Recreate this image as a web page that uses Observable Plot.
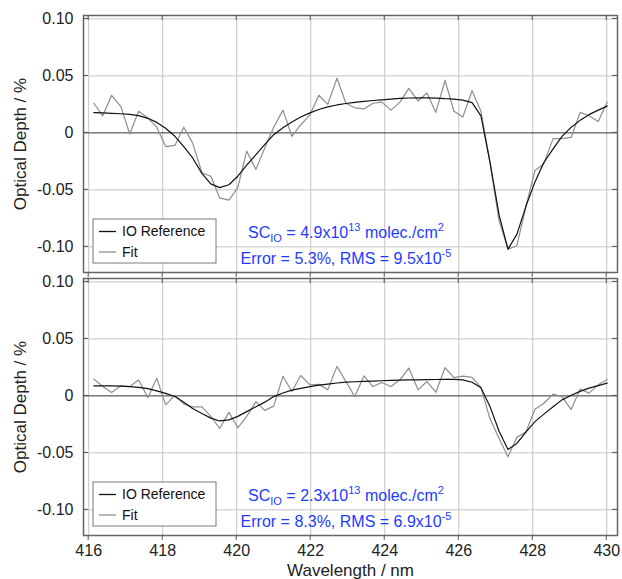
<!DOCTYPE html>
<html><head><meta charset="utf-8">
<script src="https://cdn.jsdelivr.net/npm/d3@7"></script>
<script src="https://cdn.jsdelivr.net/npm/@observablehq/plot@0.6"></script>
<style>
html,body{margin:0;padding:0;background:#fff;}
#chart{width:622px;height:579px;}
#chart svg{display:block;}
</style></head><body><div id="chart"></div>
<script>
const wavelength = [416.14,416.38,416.62,416.87,417.11,417.35,417.60,417.84,418.08,418.33,
  418.57,418.81,419.06,419.30,419.54,419.79,420.03,420.27,420.52,420.76,
  421.00,421.25,421.49,421.73,421.98,422.22,422.46,422.71,422.95,423.19,
  423.44,423.68,423.92,424.17,424.41,424.65,424.90,425.14,425.38,425.63,
  425.87,426.11,426.36,426.60,426.84,427.09,427.33,427.57,427.82,428.06,
  428.30,428.55,428.79,429.04,429.28,429.52,429.77,430.01];

const refTop = [0.0178,0.0175,0.0172,0.0168,0.0163,0.0152,0.0128,0.0092,0.004,-0.003,
  -0.012,-0.022,-0.0355,-0.0447,-0.048,-0.0455,-0.038,-0.0283,-0.019,-0.010,
  -0.0016,0.0045,0.0095,0.014,0.0176,0.0205,0.0228,0.0245,0.0258,0.0268,
  0.0276,0.0284,0.029,0.0297,0.0302,0.0306,0.0307,0.0307,0.0305,0.0300,
  0.0297,0.0287,0.0265,0.015,-0.025,-0.072,-0.102,-0.089,-0.064,-0.043,
  -0.026,-0.014,-0.003,0.005,0.011,0.016,0.020,0.0235];
const fitTop = [0.026,0.015,0.033,0.023,-0.001,0.019,0.013,0.005,-0.012,-0.011,
  0.005,-0.009,-0.035,-0.038,-0.057,-0.059,-0.048,-0.016,-0.032,-0.013,
  0.005,0.020,-0.003,0.007,0.016,0.033,0.025,0.048,0.026,0.022,
  0.021,0.026,0.027,0.020,0.027,0.039,0.028,0.035,0.018,0.046,
  0.019,0.014,0.037,0.019,-0.025,-0.077,-0.102,-0.099,-0.064,-0.033,
  -0.027,-0.005,-0.005,-0.004,0.018,0.015,0.010,0.027];

const refBottom = [0.0088,0.0088,0.0087,0.0085,0.0082,0.0074,0.0064,0.0044,0.0022,-0.0005,
  -0.0055,-0.011,-0.0155,-0.0195,-0.022,-0.021,-0.018,-0.0138,-0.0095,-0.0055,
  -0.0006,0.0025,0.005,0.0066,0.0081,0.0094,0.0104,0.0113,0.012,0.0124,
  0.0127,0.013,0.0133,0.0136,0.0138,0.014,0.0141,0.0142,0.0144,0.0146,
  0.0145,0.014,0.012,0.0072,-0.009,-0.031,-0.047,-0.0417,-0.0315,-0.0226,
  -0.016,-0.0095,-0.0035,0.0005,0.004,0.0068,0.009,0.0112];
const fitBottom = [0.0148,0.0082,0.003,0.0089,0.0082,0.014,-0.0015,0.0155,-0.0079,0.0006,
  -0.007,-0.0097,-0.0097,-0.018,-0.0286,-0.0145,-0.028,-0.018,-0.005,-0.0127,
  -0.009,0.0172,0.0038,0.0179,0.0097,0.0101,0.0053,0.0259,0.0126,-0.0006,
  0.0176,0.0082,0.0118,0.0082,0.0141,0.0244,0.0053,0.0126,0.0032,0.0247,
  0.0161,0.0173,0.0162,0.0074,-0.0197,-0.0373,-0.0535,-0.0364,-0.0315,-0.0117,
  -0.0065,0.0015,-0.0006,-0.012,0.006,0.0024,0.0097,0.0144];

const xTicks = [416,418,420,422,424,426,428,430];
const yTicks = [-0.10,-0.05,0,0.05,0.10];
const seriesNames = ["IO Reference","Fit"];
const scValues = ["4.9","2.3"];
const scExponent = "13";
const errorValues = ["5.3%","8.3%"];
const rmsValues = ["9.5","6.9"];
const rmsExponent = "-5";

const FONT = '"Liberation Sans", Arial, Helvetica, sans-serif';
const BLUE = "#1e3cff";
const REF_COLOR = "#111";
const FIT_COLOR = "#8e8e8e";
const GRID = "#c4c4c4";

function makePanel(ref, fit, k, cfg) {
  const rows = wavelength.map((w, i) => ({w, ref: ref[i], fit: fit[i]}));
  const marks = [
    Plot.gridX(xTicks, {stroke: GRID, strokeOpacity: 1}),
    Plot.gridY(yTicks.filter(d => d !== 0), {stroke: GRID, strokeOpacity: 1}),
    Plot.ruleY([0], {stroke: "#333", strokeWidth: 1}),
    Plot.line(rows, {x: "w", y: "fit", stroke: FIT_COLOR, strokeWidth: 1.2}),
    Plot.line(rows, {x: "w", y: "ref", stroke: REF_COLOR, strokeWidth: 1.2}),
    Plot.frame({stroke: "#666", strokeWidth: 1.5}),
    Plot.axisY(yTicks, {tickSize: 0, tickPadding: 10, fontSize: 16,
      tickFormat: d => d === 0 ? "0" : d.toFixed(2), label: null}),
    Plot.text(["Optical Depth / %"], {frameAnchor: "left", rotate: -90, dx: -63,
      textAnchor: "middle", lineAnchor: "middle", fontSize: 17, fill: "#222"})
  ];
  if (cfg.xaxis) {
    marks.push(Plot.axisX(xTicks, {tickSize: 0, tickPadding: 9, fontSize: 16, label: null}));
    marks.push(Plot.text(["Wavelength / nm"], {frameAnchor: "bottom", dy: 35,
      lineAnchor: "middle", textAnchor: "middle", fontSize: 17, fill: "#222"}));
  }
  const chart = Plot.plot({
    width: 622, height: cfg.height,
    marginTop: cfg.mt, marginBottom: cfg.mb, marginLeft: 83, marginRight: 5,
    style: {fontFamily: FONT, fontSize: "16px", color: "#222", background: "#fff", overflow: "visible"},
    x: {domain: [415.86, 430.29], axis: cfg.xaxis ? undefined : null},
    y: {domain: [-0.1225, 0.103]},
    marks
  });

  const sx = chart.scale("x"), sy = chart.scale("y");
  const svg = d3.select(chart);
  const left = 83, right = 622 - 5, top = cfg.mt, bottom = cfg.height - cfg.mb;
  const tg = svg.append("g").attr("stroke", "#555").attr("stroke-width", 1);
  yTicks.forEach(v => {
    const y = sy.apply(v);
    tg.append("line").attr("x1", left).attr("x2", left + 5).attr("y1", y).attr("y2", y);
    tg.append("line").attr("x1", right - 5).attr("x2", right).attr("y1", y).attr("y2", y);
  });
  xTicks.forEach(v => {
    const x = sx.apply(v);
    tg.append("line").attr("x1", x).attr("x2", x).attr("y1", top).attr("y2", top + 5);
    tg.append("line").attr("x1", x).attr("x2", x).attr("y1", bottom).attr("y2", bottom + 5);
  });

  // legend
  const lg = svg.append("g").attr("transform", `translate(${left + 10},${bottom - 53})`)
    .attr("font-family", FONT).attr("font-size", 14).attr("fill", "#111")
    .attr("text-anchor", "start");
  lg.append("rect").attr("x", 0).attr("y", 0).attr("width", 123).attr("height", 44)
    .attr("fill", "#fff").attr("stroke", "#7a7a7a").attr("stroke-width", 1);
  [[seriesNames[0], REF_COLOR, 12.5], [seriesNames[1], FIT_COLOR, 33]].forEach(([name, color, yy]) => {
    lg.append("line").attr("x1", 6).attr("x2", 23).attr("y1", yy).attr("y2", yy)
      .attr("stroke", color).attr("stroke-width", 1.3);
    lg.append("text").attr("x", 29).attr("y", yy).attr("dy", "0.35em")
      .attr("text-anchor", "start").text(name);
  });

  // annotation
  const ag = svg.append("g").attr("font-family", FONT).attr("font-size", 16).attr("fill", BLUE)
    .attr("text-anchor", "middle");
  const t1 = ag.append("text").attr("x", left + 263).attr("y", bottom - 34);
  t1.append("tspan").text("SC");
  t1.append("tspan").attr("font-size", 11).attr("dy", 4).text("IO");
  t1.append("tspan").attr("dy", -4).text(` = ${scValues[k]}x10`);
  t1.append("tspan").attr("font-size", 11).attr("dy", -7).text(scExponent);
  t1.append("tspan").attr("dy", 7).text(" molec./cm");
  t1.append("tspan").attr("font-size", 11).attr("dy", -7).text("2");
  const t2 = ag.append("text").attr("x", left + 263).attr("y", bottom - 8);
  t2.append("tspan").text(`Error = ${errorValues[k]}, RMS = ${rmsValues[k]}x10`);
  t2.append("tspan").attr("font-size", 11).attr("dy", -7).text(rmsExponent);
  return chart;
}

const root = document.getElementById("chart");
root.appendChild(makePanel(refTop, fitTop, 0, {height: 275, mt: 15, mb: 3, xaxis: false}));
root.appendChild(makePanel(refBottom, fitBottom, 1, {height: 304, mt: 3, mb: 44, xaxis: true}));
</script></body></html>
